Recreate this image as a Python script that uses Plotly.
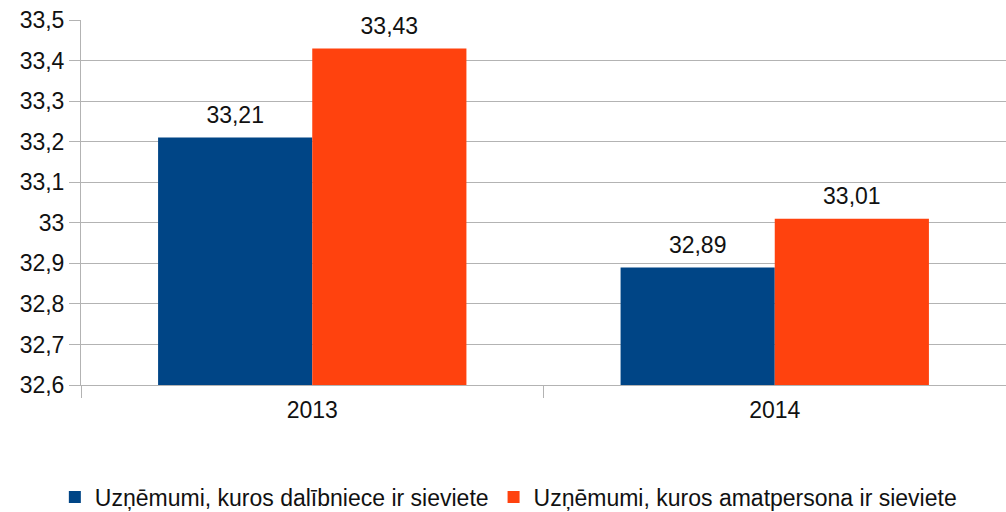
import plotly.graph_objects as go

categories = ["2013", "2014"]
series_names = ["Uzņēmumi, kuros dalībniece ir sieviete",
                "Uzņēmumi, kuros amatpersona ir sieviete"]
values_a = [33.21, 32.89]
values_b = [33.43, 33.01]
ytick_vals = [32.6, 32.7, 32.8, 32.9, 33.0, 33.1, 33.2, 33.3, 33.4, 33.5]
ytick_text = ["32,6", "32,7", "32,8", "32,9", "33", "33,1", "33,2", "33,3", "33,4", "33,5"]

colors = ["#004586", "#ff420e"]
FONT = "Liberation Sans, Arial, sans-serif"
TXT = "#111111"
GRID = "#b3b3b3"
FS = 23

fig = go.Figure()
for name, vals, col, og in [(series_names[0], values_a, colors[0], "a"),
                            (series_names[1], values_b, colors[1], "b")]:
    fig.add_trace(go.Bar(x=categories, y=vals, name=name, marker_color=col,
                         marker_line_width=0, offsetgroup=og))
for vals, og in [(values_a, "a"), (values_b, "b")]:
    fig.add_trace(go.Scatter(x=categories, y=vals, mode="markers+text",
                             marker=dict(size=12, opacity=0),
                             text=[f"{v:.2f}".replace(".", ",") for v in vals],
                             textposition="top center",
                             textfont=dict(family=FONT, size=FS, color=TXT),
                             offsetgroup=og, showlegend=False, hoverinfo="skip",
                             cliponaxis=False))

fig.update_layout(
    width=1006, height=512,
    margin=dict(l=81, r=0, t=20, b=127, autoexpand=False),
    paper_bgcolor="white", plot_bgcolor="white",
    barmode="group", bargap=1/3, bargroupgap=0,
    scattermode="group", scattergap=1/3,
    font=dict(family=FONT, size=FS, color=TXT),
    separators=",.",
    showlegend=True,
    legend=dict(orientation="h", x=0.462, xanchor="center", y=-0.307, yanchor="middle",
                font=dict(family=FONT, size=FS, color=TXT),
                itemwidth=30, tracegroupgap=0),
    xaxis=dict(type="category", showline=True, linecolor=GRID, linewidth=1,
               ticks="outside", tickson="boundaries", ticklen=12, tickcolor=GRID,
               tickwidth=1, showgrid=False, automargin=False, ticklabelstandoff=4,
               tickfont=dict(family=FONT, size=FS, color=TXT)),
    yaxis=dict(range=[32.6, 33.5], tickvals=ytick_vals, ticktext=ytick_text,
               showline=True, linecolor=GRID, linewidth=1, automargin=False,
               ticks="outside", ticklen=11, tickcolor=GRID, tickwidth=1,
               showgrid=True, gridcolor=GRID, gridwidth=1, zeroline=False,
               tickfont=dict(family=FONT, size=FS, color=TXT)),
)

fig.write_html("out.html", config={"displayModeBar": False, "staticPlot": True},
               post_script="document.body.style.margin='0';document.body.style.overflow='hidden';")
